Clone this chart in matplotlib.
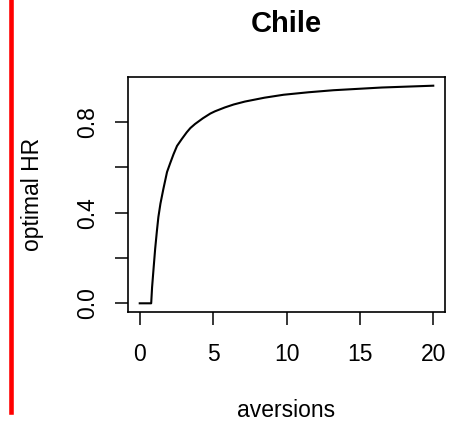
import numpy as np
import matplotlib.pyplot as plt
from matplotlib.lines import Line2D

plt.rcParams['font.family'] = ['Liberation Sans', 'DejaVu Sans']

# values
aversions = [0.0, 0.78, 0.84, 0.95, 1.05, 1.17, 1.27, 1.41, 1.61, 1.86, 2.07, 2.3, 2.54,
             2.86, 3.2, 3.45, 3.77, 4.3, 4.81, 5.13, 5.8, 6.4, 7.17, 8.5, 9.8, 11.5,
             13.2, 16.5, 20.0]
optimal_hr = [0.0, 0.0, 0.07, 0.16, 0.24, 0.32, 0.381, 0.44, 0.505, 0.58, 0.618, 0.658, 0.695,
              0.725, 0.755, 0.774, 0.792, 0.817, 0.838, 0.848, 0.865, 0.878, 0.891, 0.908,
              0.921, 0.932, 0.941, 0.953, 0.961]
xticks = [0, 5, 10, 15, 20]
yticks = [0.0, 0.2, 0.4, 0.6, 0.8]
ytick_labels = ['0.0', '', '0.4', '', '0.8']

fig = plt.figure(figsize=(4.63, 4.22), dpi=100)
ax = fig.add_axes([128/463, 1-312/422, 317/463, 235/422])

ax.plot(aversions, optimal_hr, color='black', lw=1.5)

ax.set_xlim(-0.8, 20.8)
ax.set_ylim(-0.0384, 0.9994)
ax.set_xticks(xticks)
ax.set_yticks(yticks)
ax.set_yticklabels(ytick_labels)
plt.setp(ax.get_yticklabels(), rotation=90, va='center')
ax.tick_params(length=9.5, width=1.1, labelsize=16.5, color='black')
ax.tick_params(axis='x', pad=13)
ax.tick_params(axis='y', pad=11)
for s in ax.spines.values():
    s.set_linewidth(1.2)

ax.set_xlabel('aversions', fontsize=16.5)
ax.xaxis.set_label_coords(0.5, -0.42)
ax.xaxis.label.set_va('center')
ax.set_ylabel('optimal HR', fontsize=16.5)
ax.yaxis.set_label_coords(-0.30, 0.5)
ax.yaxis.label.set_va('center')
ax.set_title('Chile', fontsize=21, fontweight='bold', y=1.225, va='center', pad=0)

# red bar at left edge
fig.add_artist(Line2D([10.5/463, 10.5/463], [1.0, 1-412/422], color='red', lw=3.3,
                      transform=fig.transFigure))

fig.savefig('out.png', dpi=100)
